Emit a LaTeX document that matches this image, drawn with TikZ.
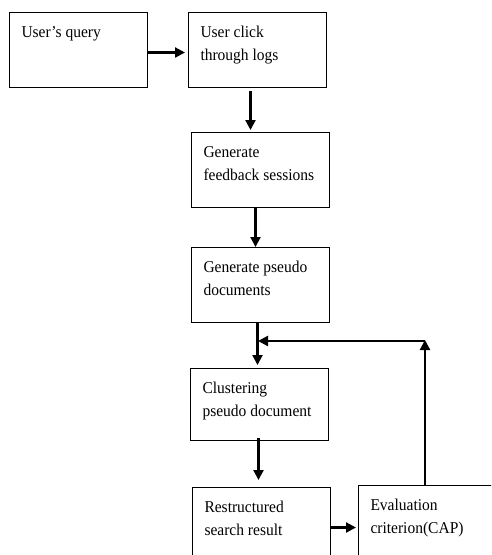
\documentclass[tikz,border=0pt]{standalone}
\usepackage{fontspec}
\setmainfont{Liberation Serif}[FakeStretch=0.94]
\usetikzlibrary{arrows.meta,positioning}
\newcommand{\boxtext}[2][57pt]{\parbox[t][#1][t]{114pt}{\raggedright\strut #2}}

\begin{document}
\begin{tikzpicture}[x=1pt, y=-1pt,
  every node/.style={font=\fontsize{16.5}{23}\selectfont},
  stage/.style={draw, line width=1pt, anchor=north west, inner xsep=12pt, inner ysep=9pt},
  flow/.style={-{Triangle[length=10pt,width=10pt]}, line width=2.2pt}]
\clip (0,0) rectangle (491,555);
\node[stage] (query) at (9,12) {\boxtext{User’s query}};
\node[stage] (logs) at (188,12) {\boxtext{User click\\through logs}};
\node[stage] (feed) at (191,132) {\boxtext{Generate\\feedback sessions}};
\node[stage] (pseudo) at (191,247) {\boxtext{Generate pseudo\\documents}};
\node[stage] (cluster) at (190,368) {\boxtext[54pt]{Clustering\\pseudo document}};
\node[stage] (restr) at (192,487) {\boxtext{Restructured\\search result}};
\node[stage] (eval) at (358,485) {\boxtext{Evaluation\\criterion(CAP)}};
\coordinate (turn) at (425,340);
\coordinate (merge) at (258,341);
\draw[flow] ([yshift=-2.5pt]query.east) -- ([yshift=-2.5pt, xshift=-3pt]logs.west);
\draw[flow] ([xshift=-7pt, yshift=-3pt]logs.south) -- ([xshift=-10pt, yshift=2pt]feed.north);
\draw[flow] ([xshift=-5pt]feed.south) -- ([xshift=-5pt]pseudo.north);
\draw[flow] ([xshift=-3pt]pseudo.south) -- ([xshift=-2pt, yshift=3pt]cluster.north);
\draw[flow] ([xshift=-1pt, yshift=3pt]cluster.south) -- ([xshift=-3pt, yshift=7pt]restr.north);
\draw[flow] ([yshift=-2.5pt]restr.east) -- ([yshift=-4.5pt, xshift=-2pt]eval.west);
% feedback loop from the evaluation back to clustering
\draw[flow] (eval.north -| turn) -- (turn);
\draw[flow] (turn |- merge) -- (merge);
\end{tikzpicture}
\end{document}
